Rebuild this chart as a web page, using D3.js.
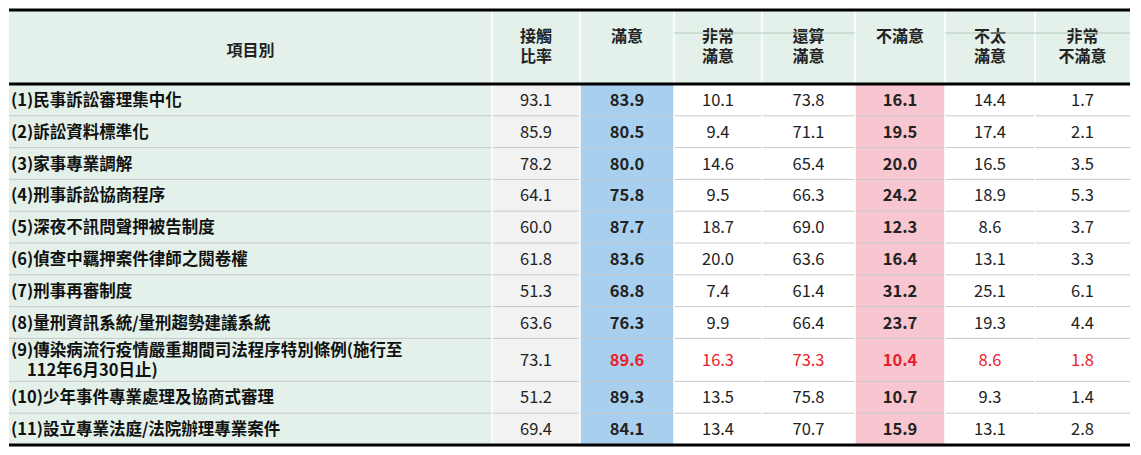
<!DOCTYPE html>
<html><head><meta charset="utf-8">
<script src="https://cdn.jsdelivr.net/npm/d3@7"></script>
<style>body{margin:0;background:#fff}text{font-family:"Noto Sans CJK TC","Noto Sans",sans-serif}</style>
</head><body><svg id="canvas" width="1141" height="455"></svg>
<script>
// data
let items = ['(1)民事訴訟審理集中化','(2)訴訟資料標準化','(3)家事專業調解','(4)刑事訴訟協商程序','(5)深夜不訊問聲押被告制度','(6)偵查中羈押案件律師之閱卷權','(7)刑事再審制度','(8)量刑資訊系統/量刑趨勢建議系統','(9)傳染病流行疫情嚴重期間司法程序特別條例(施行至|112年6月30日止)','(10)少年事件專業處理及協商式審理','(11)設立專業法庭/法院辦理專業案件']
let contact = [93.1,85.9,78.2,64.1,60.0,61.8,51.3,63.6,73.1,51.2,69.4]
let satisfied = [83.9,80.5,80.0,75.8,87.7,83.6,68.8,76.3,89.6,89.3,84.1]
let verySat = [10.1,9.4,14.6,9.5,18.7,20.0,7.4,9.9,16.3,13.5,13.4]
let fairlySat = [73.8,71.1,65.4,66.3,69.0,63.6,61.4,66.4,73.3,75.8,70.7]
let unsatisfied = [16.1,19.5,20.0,24.2,12.3,16.4,31.2,23.7,10.4,10.7,15.9]
let notVery = [14.4,17.4,16.5,18.9,8.6,13.1,25.1,19.3,8.6,9.3,13.1]
let veryUnsat = [1.7,2.1,3.5,5.3,3.7,3.3,6.1,4.4,1.8,1.4,2.8]
let headers = ['項目別','接觸|比率','滿意','非常|滿意','還算|滿意','不滿意','不太|滿意','非常|不滿意']
let highlightRow = 8

let svg = d3.select('#canvas')
let colEdges = [9,492,580,674,762,855,945,1035,1130]
let tableTop = 10, headBottom = 84
let rowH = items.map((d,i) => i === highlightRow ? 43 : 31.8)
let rowY = [headBottom]
rowH.forEach(h => rowY.push(rowY[rowY.length-1] + h))

let columns = [null, contact, satisfied, verySat, fairlySat, unsatisfied, notVery, veryUnsat]
let colFill = ['#e3f1ea','#f2f2f2','#a8d0ee','#fff','#fff','#f8c6d0','#fff','#fff']
let bold = [true,false,true,false,false,true,false,false]

let bg = svg.append('g'), fg = svg.append('g')

// header
bg.append('rect').attr('x',colEdges[0]).attr('y',tableTop).attr('width',colEdges[8]-colEdges[0]).attr('height',headBottom-tableTop).attr('fill','#e3f1ea')
headers.forEach((h,i) => {
  let cx = (colEdges[i]+colEdges[i+1])/2
  let lines = h.split('|')
  let t = fg.append('text').attr('text-anchor','middle').attr('font-size',16).attr('font-weight','bold').attr('fill','#222')
  lines.forEach((l,k) => t.append('tspan').attr('x',cx).attr('y',(i===0?56:42)+k*20).text(l))
})
// group lines in header
;[[3,5],[6,8]].forEach(g => fg.append('line').attr('x1',colEdges[g[0]]).attr('x2',colEdges[g[1]]).attr('y1',33).attr('y2',33).attr('stroke','#b5c9bf').attr('stroke-width',1))

// body
items.forEach((name,r) => {
  let y0 = rowY[r], h = rowH[r], cy = y0 + h/2
  columns.forEach((col,c) => {
    bg.append('rect').attr('x',colEdges[c]).attr('y',y0).attr('width',colEdges[c+1]-colEdges[c]).attr('height',h).attr('fill',colFill[c])
    if (c === 0) {
      let lines = name.split('|')
      let t = fg.append('text').attr('font-size',16.5).attr('font-weight','bold').attr('fill','#111')
      lines.forEach((l,k) => t.append('tspan').attr('x',k?27:11).attr('y',cy+6+(k-(lines.length-1)/2)*20).text(l))
    } else {
      let red = r === highlightRow && c >= 2
      let x = (colEdges[c]+colEdges[c+1])/2
      fg.append('text').attr('x',x).attr('y',cy+6).attr('text-anchor','middle').attr('font-size',16.5)
        .attr('font-weight',bold[c]?'bold':'normal').attr('fill',red?'#e8202a':'#222').text(col[r].toFixed(1))
    }
  })
  if (r > 0) bg.append('line').attr('x1',colEdges[0]).attr('x2',colEdges[8]).attr('y1',y0).attr('y2',y0).attr('stroke','#c8c8c8')
})
colEdges.slice(1,8).forEach(x => bg.append('line').attr('x1',x).attr('x2',x).attr('y1',tableTop).attr('y2',rowY[rowY.length-1]).attr('stroke','#fff').attr('stroke-width',1.5))
// thick rules
;[tableTop, headBottom, rowY[rowY.length-1]].forEach(y => fg.append('line').attr('x1',colEdges[0]).attr('x2',colEdges[8]).attr('y1',y).attr('y2',y).attr('stroke','#000').attr('stroke-width',3))
</script></body></html>
